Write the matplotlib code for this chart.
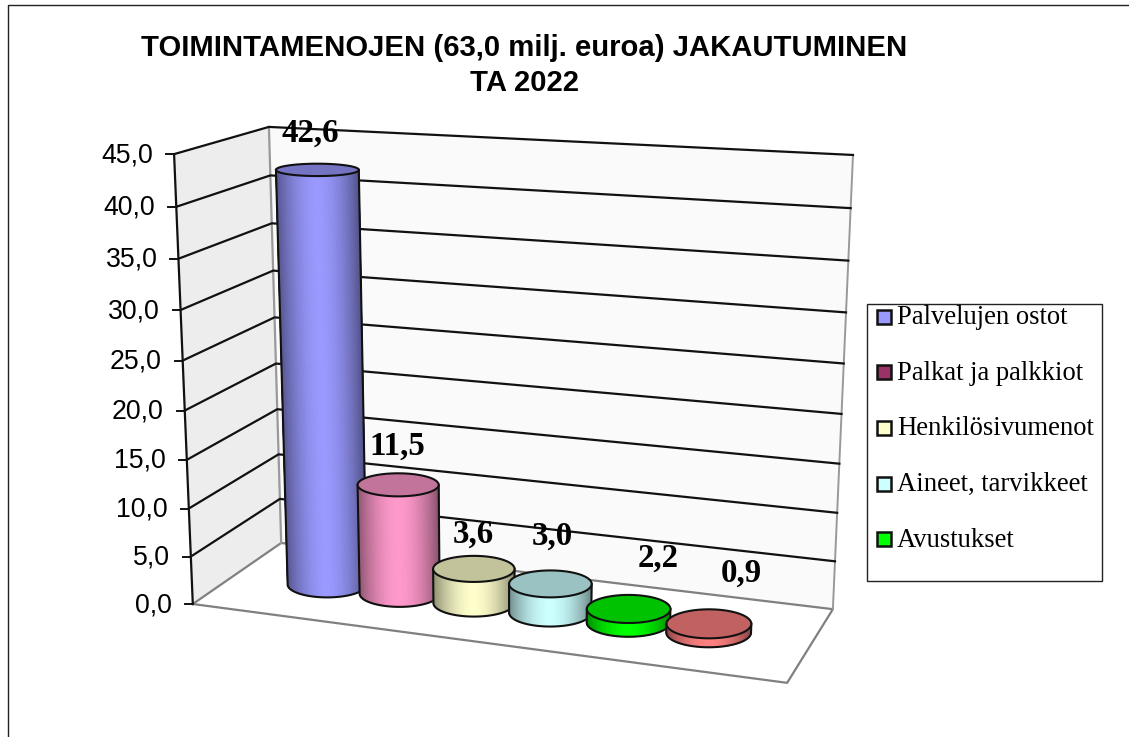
import numpy as np
import matplotlib
matplotlib.use("Agg")
import matplotlib.pyplot as plt
from matplotlib.patches import Rectangle, Polygon

title_lines = ["TOIMINTAMENOJEN (63,0 milj. euroa) JAKAUTUMINEN", "TA 2022"]
# height of the drawn cylinders; the fifth one is drawn lower than its label says
bar_values = [42.6, 11.5, 3.6, 3.0, 1.4, 0.9]
bar_labels = ["42,6", "11,5", "3,6", "3,0", "2,2", "0,9"]
bar_colors = ["#9999FF", "#FF99CC", "#FFFFCC", "#CCFFFF", "#00FF00", "#FF8080"]
legend_names = ["Palvelujen ostot", "Palkat ja palkkiot", "Henkilösivumenot", "Aineet, tarvikkeet", "Avustukset"]
legend_colors = ["#9999FF", "#993366", "#FFFFCC", "#CCFFFF", "#00FF00"]
y_ticks = [0, 5, 10, 15, 20, 25, 30, 35, 40, 45]

# box corners (x, value, depth) and where they land in the picture
box_world = [(0, 0, 0), (0, 45, 0), (0, 0, 1), (0, 45, 1), (1, 0, 1), (1, 45, 1), (1, 0, 0)]
box_pixels = [(193, 604), (174, 154), (281, 543), (269, 127), (833, 609), (853, 155), (787, 683)]

# camera fit
rows, rhs = [], []
for (wx, wv, wz), (px, py) in zip(box_world, box_pixels):
    v = wv / 45
    rows.append([wx, v, wz, 1, 0, 0, 0, 0, -px * wx, -px * v, -px * wz])
    rows.append([0, 0, 0, 0, wx, v, wz, 1, -py * wx, -py * v, -py * wz])
    rhs += [px, py]
cam = np.linalg.lstsq(np.array(rows, float), np.array(rhs, float), rcond=None)[0]


def project(x, val, z):
    x, val, z = np.broadcast_arrays(np.asarray(x, float), np.asarray(val, float) / 45, np.asarray(z, float))
    w = cam[8] * x + cam[9] * val + cam[10] * z + 1
    return (cam[0] * x + cam[1] * val + cam[2] * z + cam[3]) / w, (cam[4] * x + cam[5] * val + cam[6] * z + cam[7]) / w


def shade(color, f):
    return tuple(np.array(matplotlib.colors.to_rgb(color)) * f)


def wall(ax, pts, color, z):
    xs, ys = project(*np.array(pts).T)
    ax.add_patch(Polygon(np.c_[xs, ys], closed=True, facecolor=color, edgecolor="none", zorder=z))


def disc(cx, val, cz, angles, extra):
    # level ellipse around the projected centre of a disc
    mx, my = project(cx, val, cz)
    hw = (project(cx + radius_x, val, cz)[0] - project(cx - radius_x, val, cz)[0]) / 2 + extra
    hh = (project(cx, val, cz - radius_z)[1] - project(cx, val, cz + radius_z)[1]) / 2
    return mx + hw * np.cos(angles), my + hh * np.sin(angles)


fig = plt.figure(figsize=(11.29, 7.37), dpi=100)
ax = fig.add_axes([0, 0, 1, 1])
ax.set_xlim(0, 1129)
ax.set_ylim(737, 0)
ax.axis("off")

# outer frame
ax.plot([8, 8, 1129], [737, 4.5, 4.5], color="#222222", lw=1.0, zorder=1)

# walls
wall(ax, [(0, 0, 0), (0, 45, 0), (0, 45, 1), (0, 0, 1)], "#EDEDED", 2)
wall(ax, [(0, 0, 1), (0, 45, 1), (1, 45, 1), (1, 0, 1)], "#FAFAFA", 2)

# floor and wall edges
fx, fy = project([0, 1, 1, 0, 0], [0] * 5, [0, 0, 1, 1, 0])
ax.plot(fx, fy, color="#808080", lw=1.6, zorder=3)
ex, ey = project([0, 0], [0, 45], [1, 1])
ax.plot(ex, ey, color="#999999", lw=1.6, zorder=3)
ex, ey = project([1, 1], [0, 45], [1, 1])
ax.plot(ex, ey, color="#999999", lw=1.4, zorder=3)

# gridlines
for t in y_ticks[1:]:
    gx, gy = project([0, 0, 1], [t] * 3, [0, 1, 1])
    ax.plot(gx, gy, color="#111111", lw=1.6, zorder=4)
gx, gy = project([0, 0], [0, 45], [0, 0])
ax.plot(gx, gy, color="#111111", lw=1.6, zorder=5)
for t in y_ticks:
    tx, ty = project(0, t, 0)
    ax.plot([tx - 8, tx], [ty, ty], color="#111111", lw=1.4, zorder=5)
    ax.text(tx - 21, ty + 1, f"{t:.1f}".replace(".", ","), ha="right", va="center",
            family="Liberation Sans", fontsize=19.2, color="black", zorder=6)

# cylinders
bar_x0 = 0.1695
bar_dx = 0.1333
bar_z = 0.485
radius_x = 0.067
radius_z = 0.205
label_dx = [-7, -1, -1, 2, 29, 32]
label_dy = [-37, -39, -35, -48, -51, -51]
theta = np.linspace(0, 2 * np.pi, 181)
front = np.linspace(np.pi, 0, 91)

for i, (val, col) in enumerate(zip(bar_values, bar_colors)):
    zo = 10 + i
    cx = bar_x0 + bar_dx * i
    extra = 3.5 - 0.4 * i
    bx, by = disc(cx, 0, bar_z, front, extra)
    tx, ty = disc(cx, val, bar_z, front, extra)
    for k in range(len(front) - 1):
        u = np.cos((front[k] + front[k + 1]) / 2)
        f = 1 - 0.45 * abs(u) ** 1.8
        ax.add_patch(Polygon([(bx[k], by[k]), (bx[k + 1], by[k + 1]), (tx[k + 1], ty[k + 1]), (tx[k], ty[k])],
                             closed=True, facecolor=shade(col, f), edgecolor=shade(col, f), lw=0.8, zorder=zo))
    ex, ey = disc(cx, val, bar_z, theta, extra)
    ax.add_patch(Polygon(np.c_[ex, ey], closed=True, facecolor=shade(col, 0.76), edgecolor="#111111", lw=1.5, zorder=zo + 0.2))
    ax.plot(np.r_[tx[0], bx, tx[-1]], np.r_[ty[0], by, ty[-1]], color="#111111", lw=1.5, zorder=zo + 0.1)
    lx, ly = project(cx, val, bar_z)
    ax.text(lx + label_dx[i], ly + label_dy[i], bar_labels[i], ha="center", va="center", family="Liberation Serif",
            fontweight="bold", fontsize=23.7, color="black", zorder=30)

# title
ax.text(524, 48, title_lines[0], ha="center", va="center", family="Liberation Sans", fontweight="bold", fontsize=21.07)
ax.text(525, 83, title_lines[1], ha="center", va="center", family="Liberation Sans", fontweight="bold", fontsize=21.07)

# legend
ax.add_patch(Rectangle((867, 303.5), 235, 277.5, facecolor="white", edgecolor="#222222", lw=1.0, zorder=2))
for i, (name, col) in enumerate(zip(legend_names, legend_colors)):
    ly = 316.5 + 55.7 * i
    ax.add_patch(Rectangle((877, ly - 7), 14, 14, facecolor=col, edgecolor="#111111", lw=1.8, zorder=3))
    ax.text(897, ly + 1, name, ha="left", va="center", family="Liberation Serif", fontsize=19.15, color="black", zorder=3)

fig.savefig("out.png", dpi=100)
